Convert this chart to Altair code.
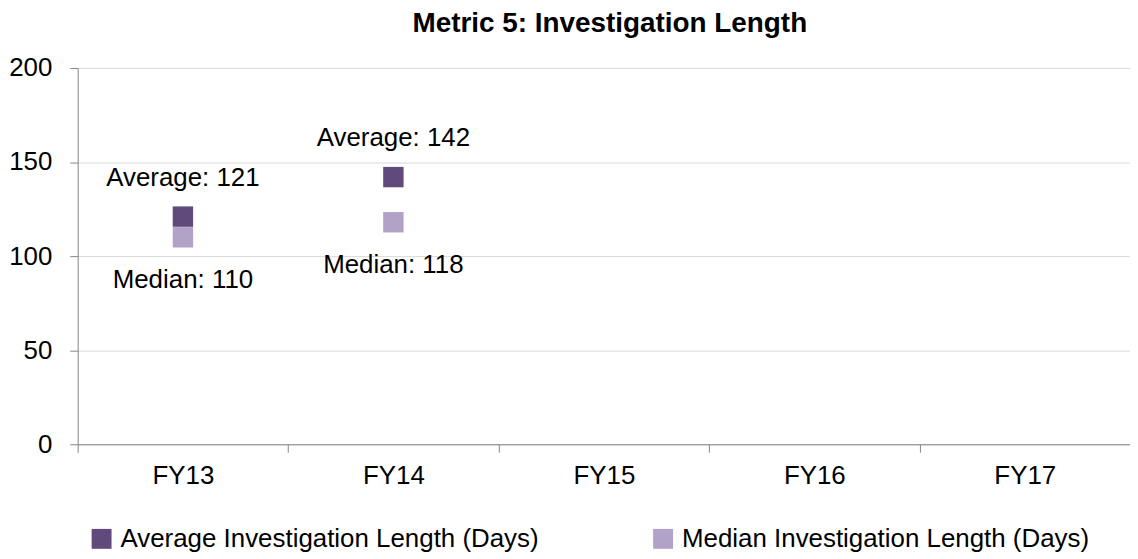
import altair as alt
import pandas as pd

categories = ["FY13", "FY14", "FY15", "FY16", "FY17"]
average_days = [121, 142]
median_days = [110, 118]
series_names = ["Average Investigation Length (Days)", "Median Investigation Length (Days)"]
series_colors = ["#604A7B", "#B3A2C7"]
y_ticks = [0, 50, 100, 150, 200]

FONT = "Liberation Sans"
FS = 26

rows = []
for c, v in zip(categories, median_days):
    rows.append({"cat": c, "series": series_names[1], "value": v, "label": f"Median: {v}"})
for c, v in zip(categories, average_days):
    rows.append({"cat": c, "series": series_names[0], "value": v, "label": f"Average: {v}"})
df = pd.DataFrame(rows)

x = alt.X(
    "cat:N",
    scale=alt.Scale(domain=categories, paddingInner=0, paddingOuter=0),
    axis=alt.Axis(
        title=None, labelAngle=0, tickBand="extent", tickSize=8, tickColor="#868686",
        domainColor="#868686", labelFont=FONT, labelFontSize=FS, labelColor="black",
        labelPadding=10, grid=False,
    ),
)
y = alt.Y(
    "value:Q",
    scale=alt.Scale(domain=[0, 200]),
    axis=alt.Axis(
        title=None, values=y_ticks, grid=True, gridColor="#d9d9d9", domainColor="#868686",
        tickColor="#868686", tickSize=8, labelPadding=18, labelFont=FONT, labelFontSize=FS,
        labelColor="black",
    ),
)

base = alt.Chart(df)

points = base.mark_point(shape="square", filled=True, size=420, opacity=1).encode(
    x=x,
    y=y,
    color=alt.Color(
        "series:N",
        scale=alt.Scale(domain=series_names, range=series_colors),
        legend=alt.Legend(
            title=None, orient="none", legendX=11, legendY=460, direction="horizontal",
            symbolType="square", symbolSize=400, labelFontSize=FS, labelFont=FONT,
            columnPadding=111, symbolStrokeWidth=0, symbolOpacity=1, labelOffset=6,
            labelLimit=0, labelColor="black",
        ),
    ),
)

avg_text = base.transform_filter(alt.datum.series == series_names[0]).mark_text(
    dy=-31, baseline="alphabetic", fontSize=FS, font=FONT, color="black"
).encode(x=x, y=y, text="label:N")

med_text = base.transform_filter(alt.datum.series == series_names[1]).mark_text(
    dy=51, baseline="alphabetic", fontSize=FS, font=FONT, color="black"
).encode(x=x, y=y, text="label:N")

chart = (
    alt.layer(points, avg_text, med_text)
    .properties(
        width=1057,
        height=378,
        autosize="none",
        padding={"left": 70, "top": 59, "right": 0, "bottom": 112},
        title=alt.Title(
            "Metric 5: Investigation Length", fontSize=28, font=FONT, fontWeight="bold",
            anchor="middle", dx=6, dy=33, offset=22, baseline="bottom", color="black",
        ),
    )
    .configure_view(stroke=None)
)

chart.save("out.html", embed_options={"renderer": "svg", "actions": False})
